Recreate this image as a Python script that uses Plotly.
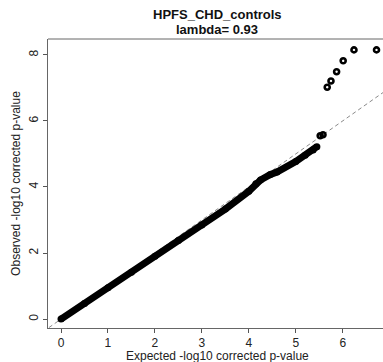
import plotly.graph_objects as go

# Main QQ band (expected, observed)
exp_main = [0.0, 0.5, 1.0, 1.5, 2.0, 2.5, 3.0, 3.5, 4.0, 4.15, 4.25, 4.45, 4.6, 5.0, 5.2, 5.37, 5.45]
obs_main = [0.0, 0.47, 0.95, 1.42, 1.9, 2.38, 2.85, 3.33, 3.87, 4.1, 4.21, 4.37, 4.45, 4.77, 4.96, 5.12, 5.22]

# Sparse tail points
exp_tail = [5.52, 5.58, 5.67, 5.75, 5.87, 6.01, 6.24, 6.72]
obs_tail = [5.55, 5.58, 7.02, 7.21, 7.49, 7.82, 8.15, 8.15]

diag = [-0.5, 7.5]

title_main = "HPFS_CHD_controls"
title_sub = "lambda= 0.93"
x_title = "Expected -log10 corrected p-value"
y_title = "Observed -log10 corrected p-value"
x_ticks = [0, 1, 2, 3, 4, 5, 6]
y_ticks = [0, 2, 4, 6, 8]

FONT = "Liberation Sans, Arial, Helvetica, sans-serif"

fig = go.Figure()
fig.add_trace(go.Scatter(x=diag, y=diag, mode="lines",
                         line=dict(color="#8a8a8a", width=1, dash="4px,3px"),
                         hoverinfo="skip"))
fig.add_trace(go.Scatter(x=exp_main, y=obs_main, mode="lines+markers",
                         line=dict(color="black", width=7),
                         marker=dict(color="black", size=7)))
fig.add_trace(go.Scatter(x=exp_tail, y=obs_tail, mode="markers",
                         marker=dict(symbol="circle-open", color="black", size=5,
                                     line=dict(width=2.6, color="black"))))

axis_common = dict(showgrid=False, zeroline=False, ticks="outside", ticklen=4,
                   tickcolor="#555", tickwidth=1, showline=True, linecolor="#666",
                   linewidth=1, tickfont=dict(family=FONT, size=12, color="#222"))

fig.update_xaxes(range=[-0.277, 6.858], tickvals=x_ticks, **axis_common)
fig.update_yaxes(range=[-0.27, 8.48], tickvals=y_ticks, tickangle=-90,
                 title=dict(text=y_title, font=dict(family=FONT, size=12, color="#222"), standoff=4),
                 **axis_common)

# top border of the box
fig.add_shape(type="line", xref="paper", yref="paper", x0=0, x1=1.05, y0=1, y1=1,
              line=dict(color="#666", width=1))

cx = (217 - 48) / 335
fig.add_annotation(text="<b>" + title_main + "</b>", xref="paper", yref="paper",
                   x=cx, y=(362 - 34 - 14) / 289, showarrow=False,
                   yanchor="middle", font=dict(family=FONT, size=13, color="#111"))
fig.add_annotation(text="<b>" + title_sub + "</b>", xref="paper", yref="paper",
                   x=cx, y=(362 - 34 - 30) / 289, showarrow=False,
                   yanchor="middle", font=dict(family=FONT, size=13, color="#111"))
fig.add_annotation(text=x_title, xref="paper", yref="paper",
                   x=cx, y=(362 - 34 - 356) / 289, showarrow=False,
                   yanchor="middle", font=dict(family=FONT, size=12, color="#222"))

fig.update_layout(width=383, height=362, margin=dict(l=48, r=0, t=39, b=34),
                  plot_bgcolor="white", paper_bgcolor="white", showlegend=False)

fig.write_html("out.html")
